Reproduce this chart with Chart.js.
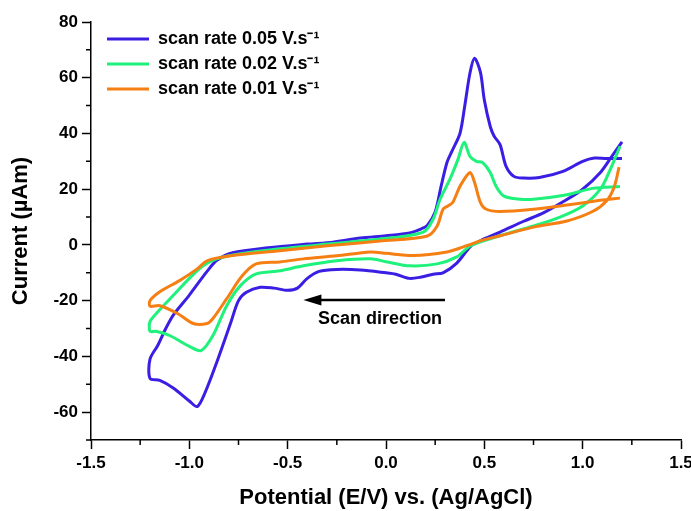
<!DOCTYPE html>
<html>
<head>
<meta charset="utf-8">
<script src="https://cdn.jsdelivr.net/npm/chart.js@4.4.0/dist/chart.umd.min.js"></script>
<style>
html,body{margin:0;padding:0;background:#fff;}
#wrap{width:691px;height:511px;position:relative;}
</style>
</head>
<body>
<div id="wrap"><canvas id="c" width="691" height="511"></canvas></div>
<script>
// ---- data (potential in V, current in µA); lower (cathodic) branch then upper (anodic) branch ----
const seriesNames = ['scan rate 0.05 V.s\u207B\u00B9', 'scan rate 0.02 V.s\u207B\u00B9', 'scan rate 0.01 V.s\u207B\u00B9'];

const blueV = [1.20,1.15,1.09,1.00,0.90,0.80,0.70,0.58,0.48,0.43,0.36,0.29,0.24,0.18,0.12,0.05,0.00,-0.13,-0.25,-0.34,-0.40,-0.45,-0.50,-0.57,-0.64,-0.71,-0.75,-0.79,-0.86,-0.92,-0.96,-1.00,-1.08,-1.15,-1.20,
  -1.20,-1.16,-1.12,-1.08,-1.00,-0.91,-0.86,-0.78,-0.60,-0.40,-0.27,-0.13,0.00,0.12,0.18,0.21,0.25,0.28,0.31,0.335,0.376,0.40,0.427,0.45,0.48,0.50,0.53,0.55,0.58,0.61,0.65,0.70,0.78,0.90,1.00,1.06,1.12,1.20];
const blueI = [37,32,26,20,15.5,11.5,8.5,4.6,1.5,-0.5,-6.5,-10,-10.5,-11.5,-12,-10.5,-10,-9,-8.8,-9.5,-12,-15.5,-16.3,-15.5,-15.2,-17,-20,-28,-42,-53,-58,-56,-51.4,-48.6,-47.9,
  -41,-36,-30,-25,-18,-9.5,-5.5,-2.8,-1.0,0.3,1,2.5,3.3,4.3,5.8,7,11.8,21,29.6,33.6,40,49.7,61.7,67,62,52,42.5,39,36,28.3,24.6,24,24.2,26.4,30,31.2,31,31];

const greenV = [1.19,1.14,1.09,1.00,0.885,0.75,0.58,0.43,0.36,0.26,0.12,0.00,-0.08,-0.25,-0.42,-0.54,-0.66,-0.74,-0.81,-0.88,-0.94,-1.00,-1.10,-1.17,-1.20,
  -1.20,-1.16,-1.08,-1.00,-0.93,-0.86,-0.74,-0.54,-0.30,-0.03,0.19,0.24,0.275,0.325,0.366,0.397,0.427,0.46,0.49,0.53,0.56,0.60,0.68,0.75,0.92,1.05,1.19];
const greenI = [35.4,27,20,14,10,6.8,3.3,-0.3,-4.3,-6.8,-7.5,-6,-5,-5.7,-7.5,-9.3,-10.4,-14.6,-21.8,-32.5,-37.9,-36.4,-32.5,-31,-31,
  -27.5,-24,-18,-12,-7.5,-5,-3.2,-1.4,0.3,2.1,4.6,9.3,16.4,23.6,30.7,36.8,31.8,30,29.6,26,21,17.5,16.4,16.4,18,20.3,21];

const orangeV = [1.185,1.16,1.12,1.05,0.92,0.75,0.58,0.48,0.43,0.39,0.31,0.14,0.00,-0.08,-0.25,-0.42,-0.54,-0.66,-0.73,-0.81,-0.88,-0.91,-0.98,-1.06,-1.15,-1.20,
  -1.20,-1.15,-1.05,-0.96,-0.91,-0.79,-0.54,-0.30,-0.03,0.21,0.26,0.29,0.315,0.34,0.376,0.427,0.45,0.48,0.51,0.58,0.75,0.92,1.09,1.19];
const orangeI = [27.9,20.7,15.7,12,8.6,6.4,3.3,1.5,0.2,-0.8,-2.5,-3.8,-3,-2.5,-3.9,-5,-6.1,-6.8,-11,-19.3,-26.4,-28.2,-28.2,-24.6,-21.8,-22,
  -20,-16.8,-12.8,-8.6,-5.7,-3.9,-2.1,-0.3,1.4,3.2,6.8,12.8,14,15.3,21,26,22.5,15.3,12.8,12,12.8,14.3,16,16.8];

const xTicks = [-1.5,-1.0,-0.5,0.0,0.5,1.0,1.5];
const xMinorTicks = [-1.25,-0.75,-0.25,0.25,0.75,1.25];
const yTicks = [-60,-40,-20,0,20,40,60,80];
const yMinorTicks = [-70,-50,-30,-10,10,30,50,70];

// annotation: scan direction arrow (data units)
const arrowFrom = [0.30, -19.8];
const arrowTo = [-0.42, -19.8];
const arrowLabel = 'Scan direction';
const arrowLabelAt = [-0.03, -26.5];

const colors = ['#3a1ee4', '#1ef27a', '#f67f14'];
const FONT = '"Liberation Sans", Arial, sans-serif';

function pts(V, I){ return V.map((v,i)=>({x:v, y:I[i]})); }

const extras = {
  id: 'extras',
  afterLayout(chart){
    const lg = chart.legend;
    if (lg) {
      const dy = chart.chartArea.top + 1 - lg.top;
      lg.left += 9; lg.right += 9; lg.top += dy; lg.bottom += dy;
    }
  },
  afterDraw(chart){
    const ctx = chart.ctx, xs = chart.scales.x, ys = chart.scales.y;
    const ca = chart.chartArea;
    ctx.save();
    ctx.strokeStyle = '#000'; ctx.lineWidth = 1.5;
    ctx.beginPath();
    xMinorTicks.forEach(v=>{ const px = xs.getPixelForValue(v); ctx.moveTo(px, ca.bottom); ctx.lineTo(px, ca.bottom+5); });
    yMinorTicks.forEach(v=>{ const py = ys.getPixelForValue(v); ctx.moveTo(ca.left, py); ctx.lineTo(ca.left-5, py); });
    ctx.stroke();
    // arrow
    const x1 = xs.getPixelForValue(arrowFrom[0]), y1 = ys.getPixelForValue(arrowFrom[1]);
    const x2 = xs.getPixelForValue(arrowTo[0]), y2 = ys.getPixelForValue(arrowTo[1]);
    ctx.lineWidth = 2.5;
    ctx.beginPath(); ctx.moveTo(x1,y1); ctx.lineTo(x2+14,y2); ctx.stroke();
    ctx.fillStyle = '#000';
    ctx.beginPath(); ctx.moveTo(x2,y2); ctx.lineTo(x2+18,y2-5.5); ctx.lineTo(x2+18,y2+5.5); ctx.closePath(); ctx.fill();
    ctx.font = 'bold 18px ' + FONT;
    ctx.textAlign = 'center'; ctx.textBaseline = 'middle';
    ctx.fillText(arrowLabel, xs.getPixelForValue(arrowLabelAt[0]), ys.getPixelForValue(arrowLabelAt[1]));
    ctx.restore();
  }
};

new Chart(document.getElementById('c'), {
  type: 'scatter',
  data: {
    datasets: [
      {label: seriesNames[0], data: pts(blueV, blueI), borderColor: colors[0], backgroundColor: colors[0], order: 3},
      {label: seriesNames[1], data: pts(greenV, greenI), borderColor: colors[1], backgroundColor: colors[1], order: 2},
      {label: seriesNames[2], data: pts(orangeV, orangeI), borderColor: colors[2], backgroundColor: colors[2], order: 1}
    ].map(d=>Object.assign(d, {showLine: true, pointRadius: 0, borderWidth: 3, tension: 0.3, fill: false}))
  },
  options: {
    responsive: false,
    animation: false,
    events: [],
    layout: {padding: {top: 22, right: 10, left: 0, bottom: 0}},
    plugins: {
      tooltip: {enabled: false},
      legend: {
        position: 'chartArea', align: 'start',
        labels: {
          sort: (a,b)=>a.datasetIndex-b.datasetIndex,
          usePointStyle: true, pointStyle: 'line', pointStyleWidth: 42,
          padding: 7, color: '#000',
          font: {family: FONT, size: 18, weight: 'bold'}
        }
      }
    },
    scales: {
      x: {
        type: 'linear', min: -1.5, max: 1.5,
        afterBuildTicks: s => { s.ticks = xTicks.map(v=>({value:v})); },
        afterFit: s => { s.height = 71; s.paddingRight = 0; s.paddingLeft = 0; },
        ticks: {callback: v => Number(v).toFixed(1), color: '#000', font: {family: FONT, size: 17, weight: 'bold'}, padding: 4, maxRotation: 0, autoSkip: false},
        grid: {drawOnChartArea: false, drawTicks: true, tickLength: 9, tickColor: '#000', tickWidth: 1.5},
        border: {display: true, color: '#000', width: 1.5},
        title: {display: true, text: 'Potential (E/V) vs. (Ag/AgCl)', color: '#000', font: {family: FONT, size: 22, weight: 'bold'}, padding: {top: 0, bottom: 0}}
      },
      y: {
        type: 'linear', min: -70, max: 80,
        afterBuildTicks: s => { s.ticks = yTicks.map(v=>({value:v})); },
        afterFit: s => { s.width = 91; s.paddingTop = 0; s.paddingBottom = 0; },
        ticks: {color: '#000', font: {family: FONT, size: 17, weight: 'bold'}, padding: 4},
        grid: {drawOnChartArea: false, drawTicks: true, tickLength: 9, tickColor: '#000', tickWidth: 1.5},
        border: {display: true, color: '#000', width: 1.5},
        title: {display: true, text: 'Current (\u00B5Am)', color: '#000', font: {family: FONT, size: 22, weight: 'bold'}, padding: {top: 8, bottom: 0}}
      }
    }
  },
  plugins: [extras]
});
</script>
</body>
</html>
